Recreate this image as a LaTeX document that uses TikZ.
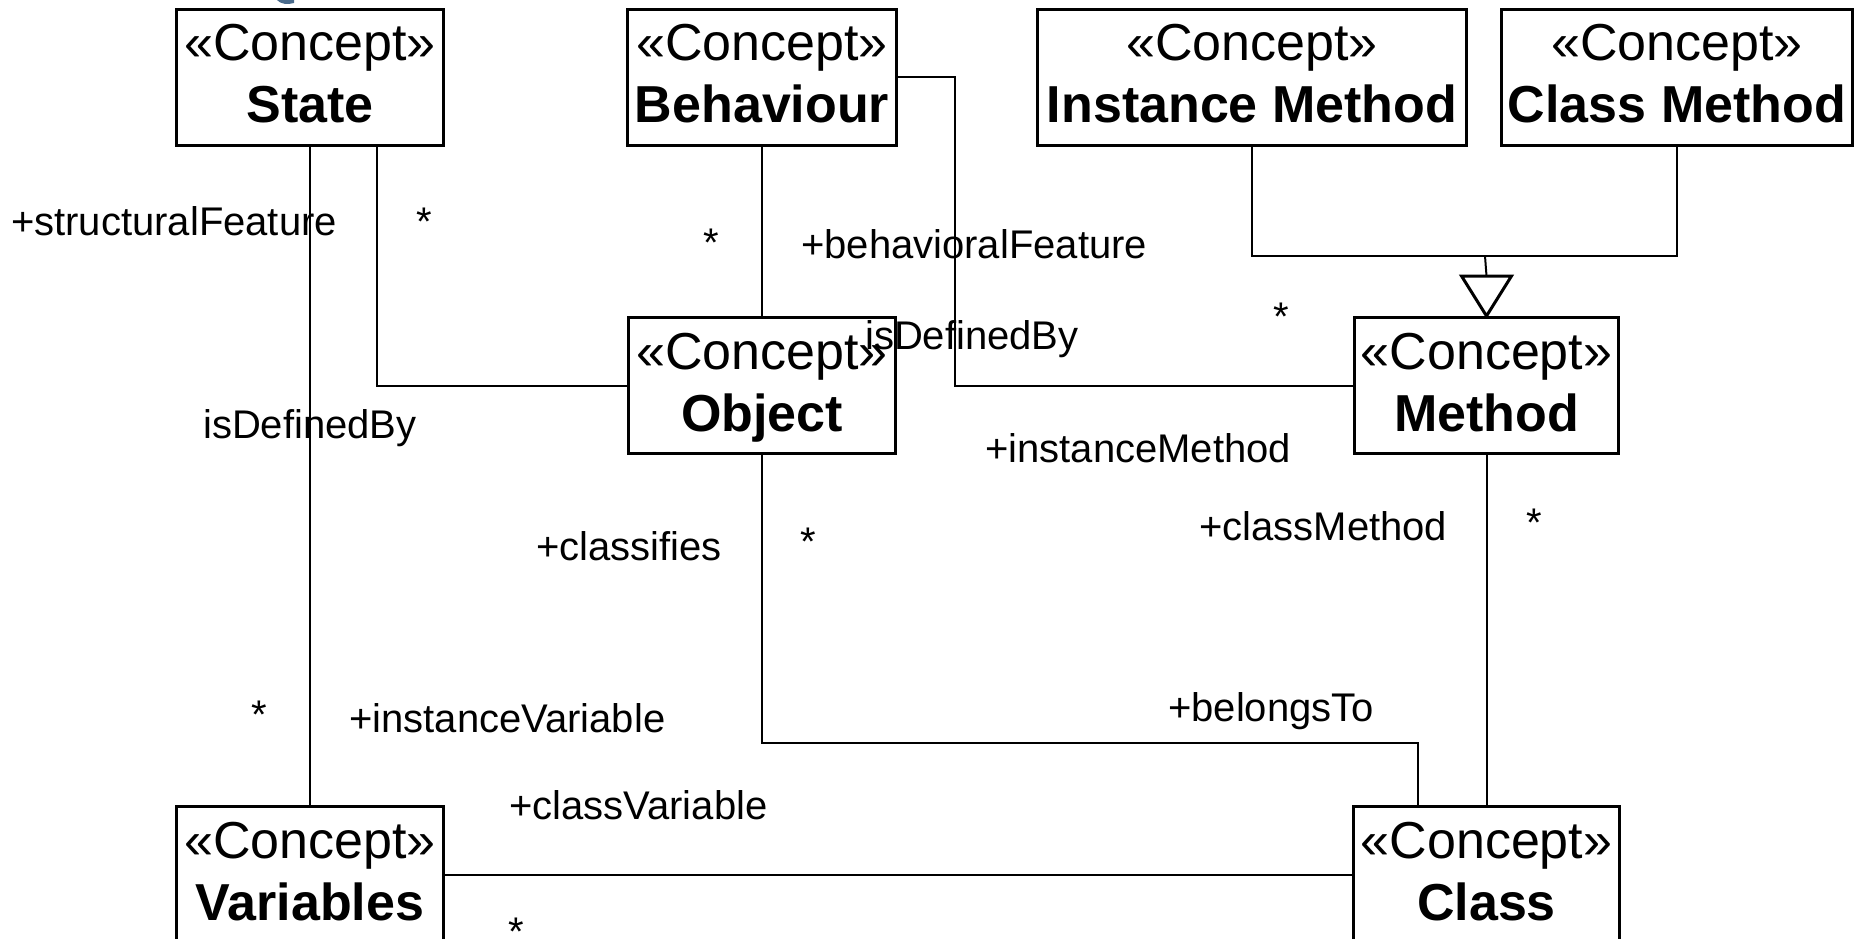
\documentclass[tikz,border=0pt]{standalone}
\usepackage{fontspec}
\setmainfont{Liberation Sans}
\usetikzlibrary{calc}
\definecolor{titleblue}{HTML}{4A6B8C}
\tikzset{
  conceptbox/.style={draw, line width=3pt, minimum width=#1, minimum height=136pt, inner sep=0pt, anchor=north west},
  stereo/.style={font=\fontsize{52}{60}\selectfont, inner sep=0pt, anchor=base},
  cname/.style={font=\fontsize{52}{60}\selectfont\bfseries, inner sep=0pt, anchor=base},
  rolelabel/.style={font=\fontsize{40}{46}\selectfont, inner sep=0pt, anchor=base west},
  mult/.style={font=\fontsize{40}{46}\selectfont, inner sep=0pt, anchor=base},
  conn/.style={line width=2pt},
}
\newcommand\conceptnode[5]{%
  \node[conceptbox=#4pt] (#1) at (#2,#3) {};
  \node[stereo] (#1-st) at ($(#1.north)+(0,53)$) {«Concept»};
  \node[cname] (#1-nm) at ($(#1.north)+(0,115)$) {#5};
}
\begin{document}
\begin{tikzpicture}[x=1pt,y=-1pt]
\useasboundingbox (0,0) rectangle (1856,939);
% clipped title fragment
\fill[titleblue] (277,0) .. controls (280,4) and (288,5) .. (294,3) -- (294,0) -- cycle;

\conceptnode{state}{175}{8}{267}{State}
\conceptnode{behaviour}{626}{8}{269}{Behaviour}
\conceptnode{imethod}{1036}{8}{429}{Instance Method}
\conceptnode{cmethod}{1500}{8}{351}{Class Method}
\conceptnode{object}{627}{316}{267}{Object}
\conceptnode{method}{1353}{316}{264}{Method}
\conceptnode{variables}{175}{805}{267}{Variables}
\conceptnode{class}{1352}{805}{266}{Class}

% connectors
\draw[conn] (state.south) -- (variables.north);
\draw[conn] ([xshift=67pt]state.south) |- (object.west);
\draw[conn] (behaviour.south) -- (behaviour.south |- object.north);
\coordinate (bmx) at (955,200);
\draw[conn] (behaviour.east) -| (bmx |- method.west) -- (method.west);
\coordinate (oc) at (1418,743);
\draw[conn] (object.south) |- (oc) -- (oc |- class.north);
\draw[conn] (method.south) -- (method.south |- class.north);
\draw[conn] (variables.east) -- (class.west);
\coordinate (gj) at (1485,256);
\draw[conn] (imethod.south) |- (gj) -| (cmethod.south);
\draw[conn] (gj) -- ($(method.north)+(0,-40)$);
\draw[line width=3pt, line join=miter] ($(method.north)+(-25,-40)$) -- ($(method.north)+(25,-40)$) -- (method.north) -- cycle;

% labels
\node[rolelabel] (l1) at (11,235) {+structuralFeature};
\node[mult] (m1) at (424,235) {*};
\node[mult] (m2) at (711,256.5) {*};
\node[rolelabel] (l2) at (801,258) {+behavioralFeature};
\node[mult] (m3) at (1281,330) {*};
\node[rolelabel] (l3) at (865,349) {isDefinedBy};
\node[rolelabel] (l4) at (203,438) {isDefinedBy};
\node[rolelabel] (l5) at (985,462) {+instanceMethod};
\node[rolelabel] (l6) at (1199,540) {+classMethod};
\node[mult] (m4) at (1534,536) {*};
\node[rolelabel] (l7) at (536,560.5) {+classifies};
\node[mult] (m5) at (808,555) {*};
\node[mult] (m6) at (259,728.5) {*};
\node[rolelabel] (l8) at (349,732.5) {+instanceVariable};
\node[rolelabel] (l9) at (1168,721) {+belongsTo};
\node[rolelabel] (l10) at (509,819) {+classVariable};
\node[mult, text depth=-16pt] (m7) at (516,945) {*};
\end{tikzpicture}
\end{document}
